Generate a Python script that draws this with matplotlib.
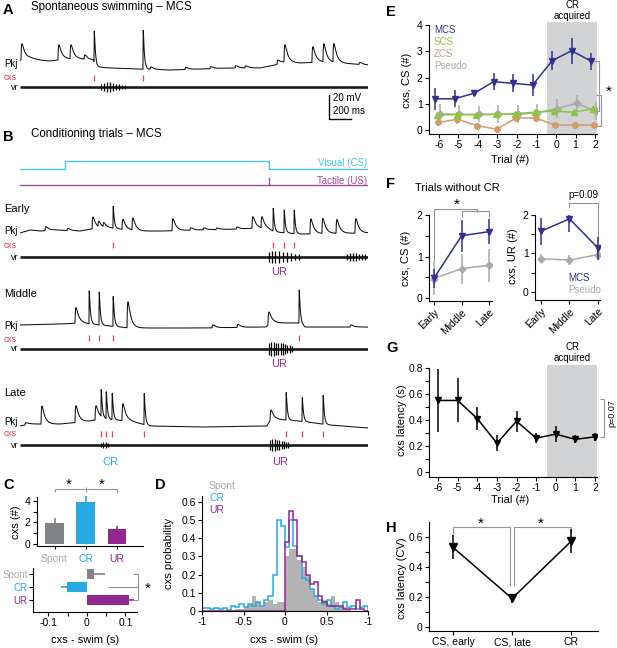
import numpy as np
import matplotlib
matplotlib.use('Agg')
import matplotlib.pyplot as plt

plt.rcParams['font.family'] = ['Liberation Sans', 'DejaVu Sans']
plt.rcParams['axes.linewidth'] = 0.8
plt.rcParams['axes.unicode_minus'] = False
for a in ('xtick', 'ytick'):
    plt.rcParams[a + '.major.width'] = 0.8
    plt.rcParams[a + '.major.size'] = 3
    plt.rcParams[a + '.labelsize'] = 7.5
    plt.rcParams[a + '.major.pad'] = 1.5

# ---------------- colours ----------------
C_MCS = '#2E3192'
C_SCS = '#8CC63F'
C_ZCS = '#D29B6C'
C_PSEUDO = '#A7A9AC'
C_CR = '#27AAE1'
C_UR = '#92278F'
C_SPONT = '#808285'
C_CXS = '#EF3E4A'
C_SHADE = '#D1D3D4'
C_BRK = '#939598'
C_VIS = '#4BC4EA'
C_TAC = '#A24A9E'

# ---------------- data: traces (ms, mV) ----------------
TRACE_END_MS = 3164
CS_ON_MS, CS_OFF_MS, US_MS = 410, 2265, 2265
SCALE_MV, SCALE_MS = 20, 200

a_knot_t = [0, 91, 182, 273, 409, 545, 664, 700, 818, 1091, 1364, 1636, 1909, 2182, 2318, 2409, 2545, 2727, 2909, 3164]
a_knot_v = [8.3, 10, 8.3, 7.5, 9.2, 9.2, 8.3, 2.5, 1.7, 0.8, 0, 0.8, 1.7, 1.7, 4.2, 6.7, 5.8, 6.7, 5.8, 4.2]
a_ev_t = [9, 345, 455, 582, 673, 1118, 1182, 1500, 1727, 1954, 2045, 2336, 2400, 2654, 2754, 2845, 3082]
a_ev_amp = [13.3, 12.5, 11.7, 3.7, 26, 32.5, 2, 1.7, 1.7, 2, 1.7, 3.3, 14, 13, 15, 15.4, 1.7]
a_ev_kind = "sssscc" + "sssss" + "ssssss"
a_burst_t = [[736, 764, 791, 818, 845, 873, 900, 927, 955]]
a_burst_amp = [[2.5, 3.5, 4.2, 4.2, 3.5, 2.8, 2.2, 1.7, 1.3]]

e_knot_t = [0, 91, 182, 318, 545, 636, 818, 1091, 1273, 1636, 2000, 2136, 2254, 2318, 2545, 3154]
e_knot_v = [-0.8, 1.7, 0.8, 1.7, 0.8, 2.5, 3.3, 0.8, 0.8, 1.7, 2.5, 3.3, 2.5, 0, -1.7, -0.8]
e_ev_t = [227, 427, 655, 709, 754, 845, 927, 1018, 1382, 1545, 1664, 1782, 1964, 2109, 2191,
          2300, 2400, 2491, 2636, 2745, 2873, 3045]
e_ev_amp = [3.3, 1.7, 10, 4.6, 3.6, 18.3, 8.3, 10, 10, 2, 1.7, 1.3, 1.7, 9.6, 9.4,
            19, 19, 19.6, 12.5, 12.5, 11.5, 12]
e_ev_kind = "sssssc" + "sssssssss" + "ccc" + "ssss"
e_burst_t = [[2264, 2291, 2318, 2354, 2391, 2427, 2464, 2500, 2536],
             [2973, 3000, 3027, 3054, 3082, 3109, 3136]]
e_burst_amp = [[4.2, 5, 5, 4.6, 4.2, 3.8, 3.3, 2.9, 2.5],
               [2.5, 3.3, 3.3, 3.3, 2.9, 2.5, 2.1]]

m_knot_t = [0, 364, 545, 1000, 1636, 2182, 2236, 2273, 2545, 2591, 3154]
m_knot_v = [2.5, 3.3, 4.2, 0, 0, 0.8, 0.8, 4.2, 4.2, 0.8, 0.8]
m_ev_t = [500, 627, 718, 845, 973, 1745, 1973, 2254, 2536, 3000]
m_ev_amp = [13, 27.5, 27.5, 25, 21.7, 2.5, 2.5, 10, 27.5, 1.7]
m_ev_kind = "sccc" + "ssss" + "cs"
m_burst_t = [[2264, 2285, 2306, 2327, 2348, 2369, 2390, 2411, 2432, 2453, 2474]]
m_burst_amp = [[5, 5.8, 5.8, 5.4, 5, 5, 4.6, 4.2, 3.6, 3.0, 2.4]]

l_knot_t = [0, 91, 364, 636, 727, 1000, 1182, 1636, 2245, 2282, 2545, 2818, 3154]
l_knot_v = [1.7, 3.3, 3.3, 5.8, 7.5, 5.8, 1.7, 0.8, 1.7, 7.5, 5.8, 2.5, 0]
l_ev_t = [45, 191, 500, 682, 736, 782, 836, 927, 1127, 2273, 2418, 2564, 2754]
l_ev_amp = [1.7, 15, 14, 11.7, 22.5, 22.5, 22, 14, 26, 7.5, 23, 20, 24]
l_ev_kind = "ssss" + "ccc" + "s" + "c" + "s" + "ccc"
l_burst_t = [[736, 757, 778, 799],
             [2273, 2294, 2315, 2336, 2357, 2378, 2399, 2420, 2441]]
l_burst_amp = [[1.7, 2.7, 2.9, 1.9],
               [4.2, 4.6, 4.6, 4.2, 4.0, 3.6, 3.1, 2.6, 2.1]]

# ---------------- data: panel C ----------------
c_cats = ['Spont', 'CR', 'UR']
c_counts = [1.95, 3.9, 1.4]
c_counts_err = [0.45, 0.6, 0.25]
c_lat = [0.019, -0.052, 0.11]
c_lat_err = [0.028, 0.016, 0.012]

# ---------------- data: panel D (bin width 0.05 s, -1..1) ----------------
d_spont = [0, 0, 0, 0, 0, 0, 0, 0, 0.01, 0.01,
           0.02, 0.04, 0.08, 0.05, 0.03, 0.05, 0.06, 0.04, 0.05, 0.05,
           0.30, 0.34, 0.34, 0.28, 0.24, 0.20, 0.12, 0.09, 0.05, 0.06,
           0.04, 0.08, 0.05, 0.03, 0.02, 0.01, 0, 0, 0, 0]
d_cr = [0.015, 0.015, 0.01, 0.015, 0.01, 0.015, 0.005, 0.03, 0.02, 0.04,
        0.02, 0.04, 0.03, 0.05, 0.03, 0.06, 0.08, 0.20, 0.50, 0.47,
        0.35, 0.50, 0.36, 0.30, 0.18, 0.17, 0.12, 0.08, 0.06, 0.04,
        0.06, 0.03, 0.01, 0.02, 0.05, 0.02, 0.03, 0.01, 0.02, 0.03]
d_ur = [0, 0, 0, 0, 0, 0, 0, 0, 0, 0,
        0, 0, 0, 0, 0, 0, 0, 0, 0, 0,
        0.38, 0.55, 0.50, 0.30, 0.27, 0.20, 0.15, 0.16, 0.08, 0.05,
        0.03, 0.03, 0.03, 0.03, 0.01, 0.01, 0.01, 0.06, 0.01, 0]
d_edges = np.linspace(-1, 1, 41)

# ---------------- data: panel E ----------------
trials = [-6, -5, -4, -3, -2, -1, 0, 1, 2]
e_mcs = [1.19, 1.19, 1.40, 1.84, 1.78, 1.71, 2.64, 3.02, 2.62]
e_mcs_err = [0.42, 0.32, 0.12, 0.32, 0.35, 0.42, 0.35, 0.5, 0.33]
e_scs = [0.57, 0.59, 0.58, 0.60, 0.62, 0.68, 0.72, 0.68, 0.81]
e_scs_err = [0.08, 0.08, 0.07, 0.08, 0.08, 0.08, 0.1, 0.08, 0.1]
e_zcs = [0.29, 0.41, 0.17, 0.03, 0.46, 0.46, 0.19, 0.19, 0.19]
e_zcs_err = [0.12, 0.17, 0.08, 0.05, 0.12, 0.15, 0.07, 0.07, 0.07]
e_pseudo = [0.62, 0.60, 0.60, 0.60, 0.60, 0.66, 0.82, 1.02, 0.72]
e_pseudo_err = [0.37, 0.35, 0.3, 0.35, 0.35, 0.35, 0.35, 0.32, 0.35]
CR_ACQ = (-0.45, 2.1)

# ---------------- data: panel F ----------------
f_cats = ['Early', 'Middle', 'Late']
f_cs_mcs = [0.48, 1.50, 1.60]
f_cs_mcs_err = [0.23, 0.38, 0.30]
f_cs_pseudo = [0.47, 0.71, 0.79]
f_cs_pseudo_err = [0.39, 0.36, 0.40]
f_ur_mcs = [1.58, 1.90, 1.14]
f_ur_mcs_err = [0.35, 0.33, 0.30]
f_ur_pseudo = [0.86, 0.83, 0.97]
f_ur_pseudo_err = [0.12, 0.14, 0.12]

# ---------------- data: panel G ----------------
g_lat = [0.55, 0.55, 0.41, 0.22, 0.39, 0.26, 0.29, 0.25, 0.27]
g_lat_err = [0.24, 0.17, 0.09, 0.06, 0.08, 0.04, 0.06, 0.03, 0.03]

# ---------------- data: panel H ----------------
h_cats = ['CS, early', 'CS, late', 'CR']
h_cv = [0.53, 0.19, 0.57]
h_cv_err = [0.08, 0.03, 0.08]

# =====================================================================
W, H = 617, 648
fig = plt.figure(figsize=(W / 100, H / 100), dpi=100)


def rect(l, t, r, b):
    return [l / W, 1 - b / H, (r - l) / W, (b - t) / H]


def ftext(x, y, s, **kw):
    kw.setdefault('va', 'center')
    fig.text(x / W, 1 - y / H, s, **kw)


def style(ax):
    ax.spines['top'].set_visible(False)
    ax.spines['right'].set_visible(False)
    ax.patch.set_alpha(0)


def brk(ax, xs, ys):
    ax.plot(xs, ys, color=C_BRK, lw=0.8, clip_on=False, solid_capstyle='butt')


def star(ax, x, y):
    ax.text(x, y, '*', ha='center', va='center', fontsize=11, clip_on=False)


# ---------------- traces A/B ----------------
ax_tr = fig.add_axes(rect(20, 0, 368, 470))
ax_tr.set_xlim(0, TRACE_END_MS)
TR_TOP_MV = 391.7
ax_tr.set_ylim(0, TR_TOP_MV)
ax_tr.axis('off')


def lvl(ypx):
    return (470 - ypx) * TR_TOP_MV / 470


t = np.arange(0, TRACE_END_MS + 1, 1.0)


def pkj_trace(kt, kv, et, ea, ek):
    v = np.interp(t, kt, kv)
    for te, a, k in zip(et, ea, ek):
        r, d = (1.2, 10.0) if k == 'c' else (5.0, 26.0)
        dt = t - te
        m = dt > 0
        tp = r * np.log(1 + d / r)
        kp = (1 - np.exp(-tp / r)) * np.exp(-tp / d)
        v[m] += a * (1 - np.exp(-dt[m] / r)) * np.exp(-dt[m] / d) / kp
    return v


rows = [
    (a_knot_t, a_knot_v, a_ev_t, a_ev_amp, a_ev_kind, a_burst_t, a_burst_amp, 70, 78, 87),
    (e_knot_t, e_knot_v, e_ev_t, e_ev_amp, e_ev_kind, e_burst_t, e_burst_amp, 232, 245, 257),
    (m_knot_t, m_knot_v, m_ev_t, m_ev_amp, m_ev_kind, m_burst_t, m_burst_amp, 328, 338, 349),
    (l_knot_t, l_knot_v, l_ev_t, l_ev_amp, l_ev_kind, l_burst_t, l_burst_amp, 428, 434, 445),
]
for kt, kv, et, ea, ek, bt, ba, py, cy, vy in rows:
    v = pkj_trace(kt, kv, et, ea, ek)
    ax_tr.plot(t, lvl(py) + v, color='#111111', lw=0.75)
    cx = [te for te, k in zip(et, ek) if k == 'c']
    ax_tr.vlines(cx, lvl(cy) - 2.2, lvl(cy) + 2.2, color=C_CXS, lw=0.9)
    ax_tr.plot([0, TRACE_END_MS], [lvl(vy)] * 2, color='#1a1a1a', lw=1.9, solid_capstyle='butt')
    for tt, aa in zip(bt, ba):
        aa = np.array(aa)
        ax_tr.vlines(tt, lvl(vy) - aa, lvl(vy) + aa, color='k', lw=0.9)

# scale bar
sb_t0, sb_v0 = 2809, lvl(119)
ax_tr.plot([sb_t0, sb_t0, sb_t0 + SCALE_MS], [sb_v0 + SCALE_MV, sb_v0, sb_v0], color='k', lw=1.0)
ftext(333, 98, '%d mV' % SCALE_MV, fontsize=7)
ftext(333, 111, '%d ms' % SCALE_MS, fontsize=7)

# stimuli
ax_st = fig.add_axes(rect(20, 150, 368, 190))
ax_st.set_xlim(0, TRACE_END_MS)
ax_st.set_ylim(0, 40)
ax_st.axis('off')
ax_st.plot([0, CS_ON_MS, CS_ON_MS, CS_OFF_MS, CS_OFF_MS, TRACE_END_MS],
           [21, 21, 29, 29, 21, 21], color=C_VIS, lw=1.0)
ax_st.plot([0, TRACE_END_MS], [5, 5], color=C_TAC, lw=1.0)
ax_st.plot([US_MS, US_MS], [5, 12], color=C_TAC, lw=1.0)
ftext(367, 163, 'Visual (CS)', color=C_VIS, fontsize=7, ha='right')
ftext(367, 181, 'Tactile (US)', color=C_TAC, fontsize=7, ha='right')

# trace labels
for py, cy, vy in [(64, 77, 87), (231, 245, 257), (326, 339, 349), (422, 433, 445)]:
    ftext(18, py, 'Pkj', fontsize=7, ha='right')
    ftext(4, cy, 'cxs', fontsize=6.2, color=C_CXS, ha='left')
    ftext(18, vy, 'vr', fontsize=6.5, ha='right')
ftext(4, 209, 'Early', fontsize=8)
ftext(4, 294, 'Middle', fontsize=8)
ftext(4, 393, 'Late', fontsize=8)
ftext(279, 272, 'UR', fontsize=8, color=C_UR, ha='center')
ftext(279, 364, 'UR', fontsize=8, color=C_UR, ha='center')
ftext(280, 462, 'UR', fontsize=8, color=C_UR, ha='center')
ftext(110, 462, 'CR', fontsize=8, color=C_CR, ha='center')

ftext(31, 7, 'Spontaneous swimming \u2013 MCS', fontsize=8.3)
ftext(31, 134, 'Conditioning trials \u2013 MCS', fontsize=8.3)

# panel letters
for s, x, y in [('A', 3, 3), ('B', 3, 130), ('C', 3, 478), ('D', 155, 478),
                ('E', 386, 5), ('F', 386, 177), ('G', 386, 341), ('H', 386, 521)]:
    ftext(x, y, s, fontsize=10.5, fontweight='bold', va='top')

# ---------------- panel C ----------------
cc = [C_SPONT, C_CR, C_UR]
xc = np.arange(3)
axc1 = fig.add_axes(rect(37, 495.6, 143, 546))
style(axc1)
axc1.bar(xc, c_counts, width=0.6, color=cc)
axc1.vlines(xc, c_counts, np.array(c_counts) + np.array(c_counts_err), colors=cc, lw=1.2)
axc1.set_xlim(-0.56, 2.83)
axc1.set_ylim(-0.19, 4.5)
axc1.spines['left'].set_bounds(-0.19, 4.4)
axc1.set_yticks([0, 1, 2, 3, 4])
axc1.set_yticklabels(['0', '', '2', '', '4'])
axc1.set_xticks(xc)
axc1.set_xticklabels(c_cats, fontsize=7.5)
axc1.tick_params(axis='x', length=2.5, pad=3)
for lb, c in zip(axc1.get_xticklabels(), [C_PSEUDO, C_CR, C_UR]):
    lb.set_color(c)
brk(axc1, [0, 0, 2, 2], [4.84, 5.1, 5.1, 4.84])
brk(axc1, [1, 1], [4.84, 5.3])
star(axc1, 0.45, 5.5)
star(axc1, 1.52, 5.5)
ftext(16, 522, 'cxs (#)', rotation=90, fontsize=8, ha='center')

axc2 = fig.add_axes(rect(33, 568, 137, 612))
style(axc2)
yc = np.arange(3)
axc2.barh(yc, c_lat, height=0.8, color=cc)
sgn = np.sign(c_lat)
axc2.hlines(yc, c_lat, np.array(c_lat) + sgn * np.array(c_lat_err), colors=cc, lw=1.2)
axc2.set_xlim(-0.14, 0.13)
axc2.set_ylim(2.92, -0.46)
axc2.set_xticks([-0.1, -0.05, 0, 0.05, 0.1])
axc2.set_xticklabels(['-0.1', '', '0', '', '0.1'])
axc2.set_yticks(yc)
axc2.set_yticklabels(c_cats, fontsize=7)
axc2.tick_params(axis='y', pad=1)
for lb, c in zip(axc2.get_yticklabels(), [C_PSEUDO, C_CR, C_UR]):
    lb.set_color(c)
brk(axc2, [0.12, 0.133, 0.133, 0.12], [0, 0, 2, 2])
brk(axc2, [0.055, 0.133], [1, 1])
star(axc2, 0.158, 1.15)
ftext(85, 640, 'cxs - swim (s)', fontsize=8, ha='center')

# ---------------- panel D ----------------
axd = fig.add_axes(rect(202, 496, 368, 611))
style(axd)
axd.stairs(d_spont, d_edges, fill=True, color='#B3B3B3', lw=0)
axd.stairs(d_cr, d_edges, color=C_CR, lw=1.1)
axd.stairs(d_ur, d_edges, color=C_UR, lw=1.1)
axd.set_xlim(-1, 1)
axd.set_ylim(0, 0.633)
axd.set_xticks([-1, -0.5, 0, 0.5, 1])
axd.set_xticklabels(['-1', '-0.5', '0', '0.5', '-1'])
axd.set_yticks(np.arange(0, 0.61, 0.1))
axd.set_yticklabels(['0', '0.1', '0.2', '0.3', '0.4', '0.5', '0.6'])
ftext(209, 486, 'Spont', fontsize=7.5, color=C_PSEUDO)
ftext(209, 498, 'CR', fontsize=7.5, color=C_CR)
ftext(209, 510, 'UR', fontsize=7.5, color=C_UR)
ftext(169, 553, 'cxs probability', rotation=90, fontsize=8, ha='center')
ftext(284, 640, 'cxs - swim (s)', fontsize=8, ha='center')

# ---------------- panel E ----------------
axe = fig.add_axes(rect(429, 21.8, 597, 134))
style(axe)
axe.axvspan(CR_ACQ[0], CR_ACQ[1], color=C_SHADE, lw=0, zorder=0)
tr = np.array(trials, dtype=float)
for y, er, c, mk, ms, off, z in [
        (e_pseudo, e_pseudo_err, C_PSEUDO, 'D', 3.5, 0.05, 2),
        (e_zcs, e_zcs_err, C_ZCS, 'o', 4, -0.05, 3),
        (e_scs, e_scs_err, C_SCS, '^', 4.5, -0.1, 4),
        (e_mcs, e_mcs_err, C_MCS, 'v', 5, -0.2, 5)]:
    axe.errorbar(tr + off, y, yerr=er, color=c, marker=mk, ms=ms, lw=1.1,
                 elinewidth=1.1, capsize=0, zorder=z)
axe.set_xlim(-6.51, 2.10)
axe.set_ylim(-0.15, 4.12)
axe.spines['left'].set_bounds(-0.15, 4)
axe.set_xticks(trials)
axe.set_yticks([0, 1, 2, 3, 4])
for s, c, yy in [('MCS', C_MCS, 3.81), ('SCS', C_SCS, 3.35), ('ZCS', C_ZCS, 2.9), ('Pseudo', C_PSEUDO, 2.44)]:
    axe.text(-6.26, yy, s, color=c, fontsize=7, va='center')
brk(axe, [1.95, 2.2, 2.2, 1.95], [2.62, 2.62, 0.72, 0.72])
brk(axe, [2.05, 2.3, 2.3, 2.05], [1.34, 1.34, 0.17, 0.17])
star(axe, 2.72, 1.45)
ftext(572, 5, 'CR', fontsize=7, ha='center')
ftext(572, 16, 'acquired', fontsize=7, ha='center')
ftext(510, 160, 'Trial (#)', fontsize=8, ha='center')
ftext(407, 80, 'cxs, CS (#)', rotation=90, fontsize=8, ha='center')

# ---------------- panel F ----------------
xf = np.arange(3)
axf1 = fig.add_axes(rect(429, 215, 492, 301))
axf2 = fig.add_axes(rect(535, 215, 600, 300))
for ax, ym, ymer, yp, yper in [(axf1, f_cs_mcs, f_cs_mcs_err, f_cs_pseudo, f_cs_pseudo_err),
                               (axf2, f_ur_mcs, f_ur_mcs_err, f_ur_pseudo, f_ur_pseudo_err)]:
    style(ax)
    ax.errorbar(xf, yp, yerr=yper, color=C_PSEUDO, marker='D', ms=3.5, lw=1.1,
                elinewidth=1.1, capsize=0, zorder=2)
    ax.errorbar(xf, ym, yerr=ymer, color=C_MCS, marker='v', ms=5, lw=1.1,
                elinewidth=1.1, capsize=0, zorder=3)
    ax.set_yticks([0, 0.5, 1, 1.5, 2])
    ax.set_yticklabels(['0', '', '1', '', '2'])
    ax.set_xticks(xf)
    ax.set_xticklabels(f_cats, rotation=45, ha='right', rotation_mode='anchor', fontsize=7.5)
axf1.set_xlim(-0.18, 2.1)
axf1.set_ylim(-0.07, 2.0)
axf2.set_xlim(-0.21, 2.07)
axf2.set_ylim(-0.21, 2.0)
brk(axf1, [0, 0, 1.56, 1.56], [0.9, 2.14, 2.14, 2.08])
brk(axf1, [1, 1, 2, 2], [1.96, 2.1, 2.1, 1.96])
star(axf1, 0.84, 2.25)
brk(axf2, [1, 1, 2, 2], [2.22, 2.31, 2.31, 1.31])
axf2.text(1.5, 2.52, 'p=0.09', fontsize=7, ha='center', va='center', clip_on=False)
axf2.text(0.95, 0.36, 'MCS', fontsize=7, color=C_MCS, va='center')
axf2.text(0.95, 0.05, 'Pseudo', fontsize=7, color=C_PSEUDO, va='center')
ftext(415, 188, 'Trials without CR', fontsize=8)
ftext(406, 258, 'cxs, CS (#)', rotation=90, fontsize=8, ha='center')
ftext(513, 256, 'cxs, UR (#)', rotation=90, fontsize=8, ha='center')

# ---------------- panel G ----------------
axg = fig.add_axes(rect(429, 365.4, 597, 477))
style(axg)
axg.axvspan(CR_ACQ[0], CR_ACQ[1], color=C_SHADE, lw=0, zorder=0)
axg.errorbar(trials, g_lat, yerr=g_lat_err, color='k', marker='v', ms=5, lw=1.1,
             elinewidth=1.1, capsize=0, zorder=3)
axg.set_xlim(-6.46, 2.1)
axg.set_ylim(-0.04, 0.82)
axg.spines['left'].set_bounds(-0.04, 0.8)
axg.set_xticks(trials)
axg.set_yticks(np.arange(0, 0.81, 0.1))
axg.set_yticklabels(['0', '', '0.2', '', '0.4', '', '0.6', '', '0.8'])
brk(axg, [2.25, 2.45, 2.45, 2.25], [0.56, 0.56, 0.27, 0.27])
axg.text(2.85, 0.45, 'p=0.07', fontsize=6.5, rotation=90, ha='center', va='center', clip_on=False)
ftext(572, 347, 'CR', fontsize=7, ha='center')
ftext(572, 358, 'acquired', fontsize=7, ha='center')
ftext(510, 500, 'Trial (#)', fontsize=8, ha='center')
ftext(402, 420, 'cxs latency (s)', rotation=90, fontsize=8, ha='center')

# ---------------- panel H ----------------
axh = fig.add_axes(rect(429, 522, 598, 631))
style(axh)
xh = np.arange(3)
axh.errorbar(xh, h_cv, yerr=h_cv_err, color='k', marker='v', ms=5.5, lw=1.1,
             elinewidth=1.1, capsize=0, zorder=3)
axh.set_xlim(-0.41, 2.46)
axh.set_ylim(-0.027, 0.7)
axh.set_xticks(xh)
axh.set_xticklabels(h_cats, fontsize=7.5)
axh.set_yticks(np.arange(0, 0.61, 0.1))
axh.set_yticklabels(['0', '', '0.2', '', '0.4', '', '0.6'])
brk(axh, [0, 0, 0.97, 0.97], [0.62, 0.667, 0.667, 0.275])
brk(axh, [1.03, 1.03, 2, 2], [0.275, 0.667, 0.667, 0.635])
star(axh, 0.46, 0.69)
star(axh, 1.49, 0.69)
ftext(402, 578, 'cxs latency (CV)', rotation=90, fontsize=8, ha='center')

fig.savefig('out.png', dpi=100)
